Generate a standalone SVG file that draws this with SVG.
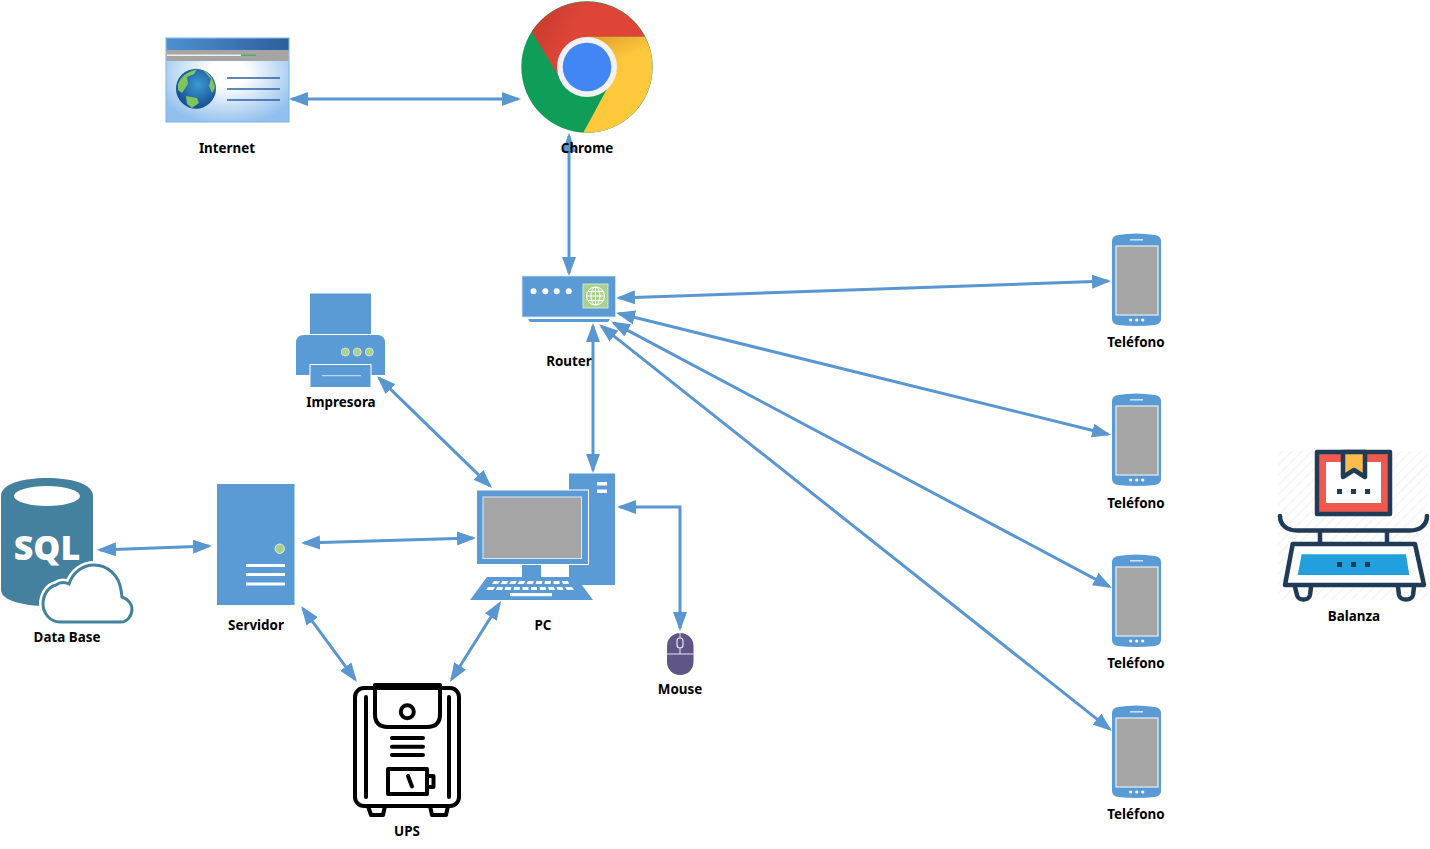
<svg xmlns="http://www.w3.org/2000/svg" xmlns:xlink="http://www.w3.org/1999/xlink" width="1430" height="849" viewBox="0 0 1430 849">
<style>
.lbl{font-family:"Noto Sans","Open Sans","Liberation Sans",sans-serif;font-weight:700;font-size:13.4px;fill:#000;text-anchor:middle}
.conn{fill:none;stroke:#5a96d0;stroke-width:3;marker-start:url(#ah);marker-end:url(#ah)}
.blue{fill:#5b9bd5}
.ups{fill:none;stroke:#000;stroke-width:4;stroke-linejoin:round;stroke-linecap:round}
.nv{stroke:#1f3b57;stroke-width:4.5;stroke-linejoin:round;stroke-linecap:round}
</style>
<defs>
<marker id="ah" markerUnits="userSpaceOnUse" markerWidth="20" markerHeight="15" refX="16" refY="7.5" orient="auto-start-reverse" viewBox="0 0 20 15"><path d="M0,0.500L19,7.500L0,14.500Z" fill="#5a96d0"/></marker>
<linearGradient id="tb" x1="0" x2="1" y1="0" y2="0"><stop offset="0" stop-color="#4f90d0"/><stop offset="1" stop-color="#2c5f9c"/></linearGradient>
<radialGradient id="pg" cx="0.5" cy="0.42" r="0.62"><stop offset="0.25" stop-color="#fff"/><stop offset="1" stop-color="#92c0ee"/></radialGradient>
<radialGradient id="gl" cx="0.55" cy="0.4" r="0.65"><stop offset="0" stop-color="#3d9bd0"/><stop offset="1" stop-color="#12458f"/></radialGradient>
<linearGradient id="rs" x1="0" x2="1" y1="0" y2="0.3"><stop offset="0" stop-color="#c23a2c"/><stop offset="0.45" stop-color="#de4538"/></linearGradient>
<linearGradient id="ys" x1="0.3" x2="0.4" y1="0" y2="0.3"><stop offset="0" stop-color="#e6a52c"/><stop offset="1" stop-color="#fec83c"/></linearGradient>
<pattern id="hatch" width="7" height="7" patternUnits="userSpaceOnUse" patternTransform="rotate(-45)"><rect width="7" height="7" fill="#fff"/><rect width="7" height="1.500" fill="#f4f4f4"/></pattern>
<g id="phone">
<path d="M1112,242Q1112,237 1118,236Q1136,233 1155,236Q1161,237 1161,242V320Q1161,325 1155,326Q1136,328 1118,326Q1112,325 1112,320Z" fill="#5b9bd5"/>
<rect x="1116" y="247" width="42" height="69" fill="#a5a5a5" stroke="#e6eef7" stroke-width="1.200"/>
<rect x="1130" y="240" width="13" height="1.600" fill="#cfe0f2"/>
<circle cx="1130.700" cy="321" r="1.600" fill="#fff"/><circle cx="1136.700" cy="321" r="1.600" fill="#fff"/><circle cx="1142.700" cy="321" r="1.600" fill="#fff"/>
</g>
</defs>
<rect width="1430" height="849" fill="#fff"/>

<g id="connectors">
<line class="conn" x1="292" y1="99" x2="518" y2="99"/>
<line class="conn" x1="569" y1="136" x2="569" y2="273"/>
<line class="conn" x1="619" y1="297.900" x2="1108" y2="281.100"/>
<line class="conn" x1="618.900" y1="313.500" x2="1108.100" y2="434.300"/>
<line class="conn" x1="613.600" y1="322.900" x2="1109.400" y2="586.600"/>
<line class="conn" x1="601.400" y1="326.100" x2="1109.600" y2="729.100"/>
<line class="conn" x1="593" y1="326" x2="593" y2="470"/>
<line class="conn" x1="379.100" y1="378.100" x2="489.900" y2="485.900"/>
<line class="conn" x1="100" y1="549.900" x2="209" y2="546.100"/>
<line class="conn" x1="304" y1="542.900" x2="473" y2="538.100"/>
<path class="conn" d="M620,507H680V628"/>
<line class="conn" x1="302.800" y1="608.400" x2="355.200" y2="679.600"/>
<line class="conn" x1="451.600" y1="679.500" x2="499.400" y2="603.500"/>
</g>

<g id="internet">
<rect x="166" y="38" width="123" height="84" fill="url(#pg)" stroke="#7fb2e5"/>
<rect x="166.500" y="38.500" width="122" height="12" fill="url(#tb)"/>
<rect x="166.500" y="50" width="122" height="11" fill="#a5a5a5"/>
<rect x="167" y="54.500" width="74" height="1.500" fill="#efefef"/>
<rect x="241" y="54.500" width="15" height="1.500" fill="#58a868"/>
<circle cx="196" cy="88.700" r="20" fill="url(#gl)"/>
<path d="M178,84C181,76 189,71 197,69.500L194,74L187,77L188,84L182,93L178,90Z M203,70C209,73 214,79 215,88L212,93L209,86L211,79Z M186,96L197,98L199,103L192,108L187,104Z" fill="#7fc45c"/>
<path d="M227,78H280M227,89H280M227,100H280" stroke="#2f609f" stroke-width="1.600" fill="none"/>
<text class="lbl" x="227" y="153">Internet</text>
</g>

<g id="chrome">
<circle cx="587" cy="67" r="65.700" fill="#0f9d58"/>
<path d="M531.700,31.700A65.700,65.700 0 0 1 645,36.700H587L558,75Z" fill="url(#rs)"/>
<path d="M645,36.700A65.700,65.700 0 0 1 583.300,132.700L608,87L587,36.700Z" fill="url(#ys)"/>
<circle cx="587" cy="67" r="30" fill="#f1f1f1"/>
<circle cx="587" cy="67" r="24.300" fill="#4285f4"/>
</g>

<g id="router">
<rect class="blue" x="522" y="276" width="93.500" height="41" stroke="#d6e6f5" stroke-width="0.800"/>
<circle cx="533.500" cy="291.300" r="3" fill="#fff"/><circle cx="545.300" cy="291.300" r="3" fill="#fff"/><circle cx="556.700" cy="291.300" r="3" fill="#fff"/><circle cx="568.700" cy="291.300" r="3" fill="#fff"/>
<rect x="583" y="284" width="25" height="24" fill="#a9d18e" stroke="#e2efd9" stroke-width="0.800"/>
<g fill="none" stroke="#fff" stroke-width="1"><circle cx="595.500" cy="296" r="9"/><ellipse cx="595.500" cy="296" rx="4.500" ry="9"/><path d="M595.500,287V305M586.500,296H604.500M588,291.500H603M588,300.500H603"/></g>
<path class="blue" d="M528,319H610L608,322H530Z"/>
</g>

<g id="printer">
<rect class="blue" x="310" y="293.500" width="61" height="40.500"/>
<path class="blue" d="M296,375V343Q296,335 304,335H377Q385,335 385,343V375Z"/>
<circle cx="345.300" cy="352" r="4" fill="#a9d18e" stroke="#e2efd9" stroke-width="0.800"/><circle cx="357.300" cy="352" r="4" fill="#a9d18e" stroke="#e2efd9" stroke-width="0.800"/><circle cx="369.300" cy="352" r="4" fill="#a9d18e" stroke="#e2efd9" stroke-width="0.800"/>
<rect class="blue" x="310" y="364.500" width="61" height="23" stroke="#fff"/>
<path d="M322,375.700H361" stroke="#d6e6f5" fill="none"/>
<text class="lbl" x="341" y="407">Impresora</text>
</g>

<g id="pc">
<rect class="blue" x="569" y="473.500" width="46" height="111.500"/>
<rect x="597" y="482" width="10" height="3.500" fill="#fff"/><rect x="597" y="489.500" width="10" height="3.500" fill="#fff"/>
<rect class="blue" x="476.500" y="490" width="112" height="74.500" stroke="#fff"/>
<rect x="483" y="497" width="98.500" height="61.500" fill="#a5a5a5" stroke="#dbe7f3"/>
<rect class="blue" x="522" y="565" width="19" height="12"/>
<path class="blue" d="M487,577H576L593,600H470Z"/>
<g fill="#fff"><path d="M494,581h6l-2,3h-6zM502.500,581h6l-2,3h-6zM511,581h6l-2,3h-6zM519.500,581h6l-2,3h-6zM528,581h6l-1.500,3h-6zM536.500,581h6l-1,3h-6zM545,581h6l-.5,3h-6zM553.500,581h6v3h-6zM562,581h6l1,3h-6z"/>
<path d="M488,587h7l-2,3h-7zM497,587h6l-1,3h-6zM505.500,587h6l-1,3h-6zM514,587h6l-.5,3h-6zM522.500,587h6v3h-6zM531,587h6v3h-6zM539.500,587h6l.5,3h-6zM548,587h6l1,3h-6zM556.500,587h6l1,3h-6zM565,587h7l2,3h-7z"/>
<rect x="510" y="593" width="42" height="3.200"/></g>
<text class="lbl" x="543" y="630">PC</text>
</g>

<g id="mouse">
<rect x="667" y="633" width="26.500" height="42" rx="13" fill="#5f5586"/>
<path d="M667,654H693.500M680,633V638M680,648V654" stroke="#e8e6f0" stroke-width="1" fill="none"/>
<rect x="677" y="638" width="6" height="10" rx="3" fill="#5f5586" stroke="#e8e6f0" stroke-width="1.200"/>
<text class="lbl" x="680" y="694">Mouse</text>
</g>

<g id="servidor">
<rect class="blue" x="217" y="484" width="77.500" height="121"/>
<circle cx="279.700" cy="548.700" r="4.700" fill="#a9d18e" stroke="#e2efd9"/>
<rect x="246" y="564" width="39" height="3" fill="#fff"/><rect x="246" y="573" width="39" height="3" fill="#fff"/><rect x="246" y="582.500" width="39" height="3" fill="#fff"/>
<text class="lbl" x="256" y="630">Servidor</text>
</g>

<g id="database">
<path d="M1,496C1,484 22,478 47,478C72,478 93,484 93,496V590C93,600 72,606 47,606C22,606 1,600 1,590Z" fill="#44819f"/>
<ellipse cx="47" cy="496" rx="33" ry="10" fill="#fff"/>
<text x="47" y="560" font-family="Open Sans,Liberation Sans,sans-serif" font-weight="800" font-size="34" fill="#fff" text-anchor="middle">SQL</text>
<path d="M60,622C50,622 43,613 43,604C43,595 48,587 56,585C60,582 65,582 69,584C73,572 83,565 94,565C107,565 119,575 121,590L122,597C128,599 132,604 132,609C132,616 127,622 121,622Z" fill="#fff" stroke="#fff" stroke-width="8"/>
<path d="M60,622C50,622 43,613 43,604C43,595 48,587 56,585C60,582 65,582 69,584C73,572 83,565 94,565C107,565 119,575 121,590L122,597C128,599 132,604 132,609C132,616 127,622 121,622Z" fill="#fff" stroke="#44819f" stroke-width="3"/>
<text class="lbl" x="67" y="642">Data Base</text>
</g>

<g id="ups">
<rect class="ups" x="355" y="688" width="104" height="118" rx="9" fill="#fff"/>
<path class="ups" d="M366,697V797M449,697V797"/>
<path class="ups" d="M375,685H440V714Q440,727 427,727H388Q375,727 375,714Z" fill="#fff"/>
<circle class="ups" cx="407.300" cy="711.700" r="6.500"/>
<path class="ups" d="M392,738H423M392,746.700H423M392,755H423"/>
<rect class="ups" x="388" y="769" width="39" height="25"/>
<path class="ups" d="M427,776H433.500V787H427M408,776L412,786.500"/>
<path class="ups" d="M368,806L371,815H383L385,806M430,806L432,815H446L448,806"/>
<text class="lbl" x="407" y="836">UPS</text>
</g>

<use id="telefono1" href="#phone" xlink:href="#phone" y="-1"/>
<text class="lbl" x="1136" y="347">Teléfono</text>
<use id="telefono2" href="#phone" xlink:href="#phone" y="159"/>
<text class="lbl" x="1136" y="508">Teléfono</text>
<use id="telefono3" href="#phone" xlink:href="#phone" y="320"/>
<text class="lbl" x="1136" y="668">Teléfono</text>
<use id="telefono4" href="#phone" xlink:href="#phone" y="471"/>
<text class="lbl" x="1136" y="819">Teléfono</text>

<g id="balanza">
<rect x="1278" y="451" width="150" height="149" fill="url(#hatch)"/>
<rect class="nv" x="1317" y="452" width="73" height="62" fill="#f05a4e"/>
<rect x="1326" y="462" width="55" height="41" fill="#fff"/>
<path class="nv" d="M1343,452V477L1354,470L1365,477V452Z" fill="#fdbb4d"/>
<path d="M1337,489h5v5h-5zM1351,489h5v5h-5zM1365,489h5v5h-5z" fill="#1f3b57"/>
<path class="nv" fill="none" d="M1280,516C1280,525 1287,530.500 1297,530.500H1410C1420,530.500 1427,525 1427,516M1320,530.500V544M1387,530.500V544"/>
<path class="nv" fill="#fff" d="M1292.700,544H1415L1424,585H1285Z"/>
<path d="M1301.700,554.300H1406L1409.300,575H1297.700Z" fill="#229fdd"/>
<path d="M1337,562h5v5h-5zM1351,562h5v5h-5zM1365,562h5v5h-5z" fill="#1f3b57"/>
<path class="nv" fill="none" d="M1295,587L1297,595C1298,601 1309,601 1310,595L1311,587M1398,587L1399,595C1400,601 1412,601 1413,595L1414,587"/>
<text class="lbl" x="1354" y="621">Balanza</text>
</g>

<text id="label-chrome" class="lbl" x="587" y="153">Chrome</text>
<text id="label-router" class="lbl" x="569" y="366">Router</text>
</svg>
